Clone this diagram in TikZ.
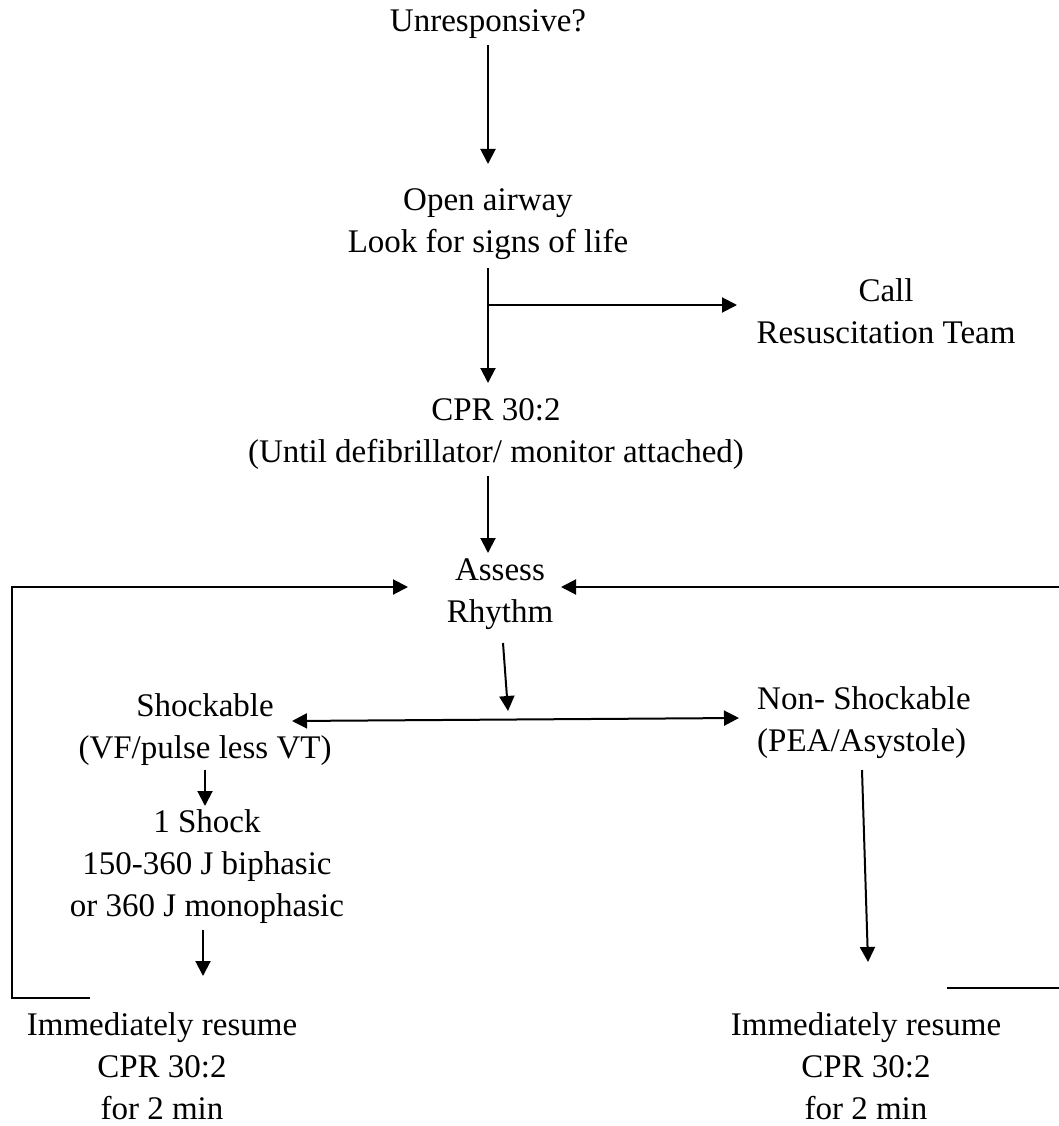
\documentclass[tikz,border=0pt]{standalone}
\usepackage{fontspec}
\setmainfont{Liberation Serif}
\usetikzlibrary{arrows.meta}
\begin{document}
\begin{tikzpicture}[x=1pt,y=-1pt,
  lbl/.style={align=center,font=\fontsize{33}{42}\selectfont,inner sep=0pt},
  ln/.style={line width=2pt},
  arr/.style={line width=2pt,-{Triangle[length=15pt,width=15pt]}},
  darr/.style={line width=2pt,{Triangle[length=15pt,width=15pt]}-{Triangle[length=15pt,width=15pt]}}]
\useasboundingbox (0,0) rectangle (1059,1126);
\clip (0,0) rectangle (1059,1126);

% steps of the algorithm
\node[lbl] (unresp) at (488,24) {Unresponsive?};
\node[lbl] (open) at (488,224) {Open airway\\Look for signs of life};
\node[lbl] (call) at (886,311) {Call\\Resuscitation Team};
\node[lbl] (cpr) at (496,434) {CPR 30:2\\(Until defibrillator/ monitor attached)};
\node[lbl] (assess) at (500,594) {Assess\\Rhythm};
\node[lbl] (shock) at (205,730) {Shockable\\(VF/pulse less VT)};
\node[lbl,align=left,anchor=west] (nonshock) at (757,723) {Non- Shockable\\(PEA/Asystole)};
\node[lbl] (oneshock) at (207,867) {1 Shock\\150-360 J biphasic\\or 360 J monophasic};
\node[lbl] (resumeL) at (162,1066) {Immediately resume\\CPR 30:2\\for 2 min};
\node[lbl] (resumeR) at (866,1066) {Immediately resume\\CPR 30:2\\for 2 min};

% connector end points
\coordinate (unrespS) at (488,45);
\coordinate (openN) at (488,164);
\coordinate (openS) at (488,268);
\coordinate (split) at (488,305);
\coordinate (callW) at (737,305);
\coordinate (cprN) at (488,383);
\coordinate (cprS) at (488,476);
\coordinate (assessN) at (488,553);
\coordinate (assessS) at (503,643);
\coordinate (fork) at (508,711);
\coordinate (shockE) at (292,721);
\coordinate (nonshockW) at (739,718);
\coordinate (shockS) at (205,770);
\coordinate (oneshockN) at (205,806);
\coordinate (oneshockS) at (203,930);
\coordinate (resumeLN) at (203,976);
\coordinate (nonshockS) at (862,770);
\coordinate (resumeRN) at (868,962);
\coordinate (loopL) at (90,998);
\coordinate (assessW) at (408,587);
\coordinate (loopR) at (947,988);
\coordinate (assessE) at (561,587);

% main flow
\draw[arr] (unrespS) -- (openN);
\draw[arr] (openS) -- (cprN);
\draw[arr] (split) -- (callW);
\draw[arr] (cprS) -- (assessN);
\draw[arr] (assessS) -- (fork);
\draw[darr] (shockE) -- (nonshockW);
\draw[arr] (shockS) -- (oneshockN);
\draw[arr] (oneshockS) -- (resumeLN);
\draw[arr] (nonshockS) -- (resumeRN);

% loops back to rhythm assessment
\draw[arr] (loopL) -- (12,998) -- (12,587) -- (assessW);
\draw[arr] (loopR) -- (1064,988) -- (1064,587) -- (assessE);
\end{tikzpicture}
\end{document}
